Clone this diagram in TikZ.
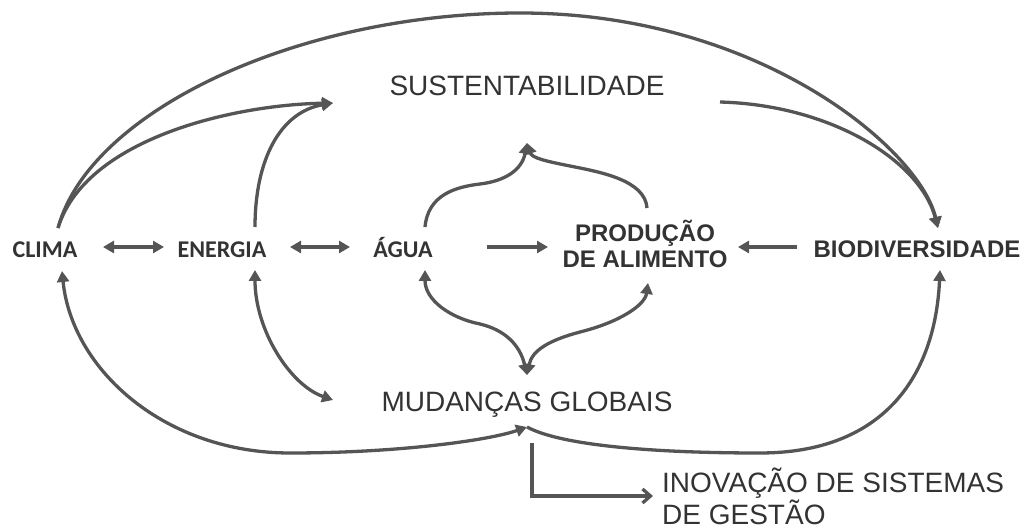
\documentclass[tikz,border=0pt]{standalone}
\usepackage{fontspec}
\setmainfont{Liberation Sans}
\newfontfamily\carlito{Carlito}
\usetikzlibrary{arrows.meta}
\definecolor{ink}{HTML}{333333}
\definecolor{wire}{HTML}{555555}
\tikzset{
  big/.style={font=\fontsize{28}{30}\selectfont, text=ink, inner sep=0pt},
  calib/.style={font=\carlito\bfseries\fontsize{24}{26}\selectfont, text=ink, inner sep=0pt},
  arialb/.style={font=\bfseries\fontsize{24}{26}\selectfont, text=ink, inner sep=0pt},
  link/.style={draw=wire, line width=3.3pt, -{Triangle[length=11pt,width=12pt]}},
  both/.style={link, {Triangle[length=11pt,width=12pt]}-{Triangle[length=11pt,width=12pt]}}
}
\begin{document}
\begin{tikzpicture}[x=1pt,y=-1pt]
\useasboundingbox (0,0) rectangle (1028,529);
\node[calib, anchor=base] (clima) at (45,258) {CLIMA};\node[calib, anchor=base] (energia) at (222,258) {ENERGIA};\node[calib, anchor=base] (agua) at (403,258) {ÁGUA};
\node[arialb, anchor=base, align=center] (prod) at (645,268) {PRODUÇÃO\\DE ALIMENTO};\node[arialb, anchor=base] (bio) at (917,258) {BIODIVERSIDADE};
\node[big, anchor=base] (sust) at (527,96) {SUSTENTABILIDADE};\node[big, anchor=base] (mud) at (527,411) {MUDANÇAS GLOBAIS};
\node[big, anchor=base west, align=left] (inov) at (662,524) {INOVAÇÃO DE SISTEMAS\\DE GESTÃO};
\draw[both] ([shift={(58,-11)}]clima.base) -- ([shift={(-58,-11)}]energia.base);\draw[both] ([shift={(68,-11)}]energia.base) -- ([shift={(-53,-11)}]agua.base);
\draw[link] ([shift={(84,-11)}]agua.base) -- ([shift={(-97,-21)}]prod.base);\draw[link] ([shift={(-120,-11)}]bio.base) -- ([shift={(93,-21)}]prod.base);
\draw[link] ([shift={(13,-30)}]clima.base) .. controls (90,110) and (300,13) .. (520,13) .. controls (760,13) and (920,150) .. ([shift={(21,-30)}]bio.base);
\draw[link] ([shift={(193,6)}]sust.base) .. controls (830,105) and (920,160) .. ([shift={(21,-30)}]bio.base);
\draw[link] ([shift={(13,-30)}]clima.base) .. controls (85,140) and (230,105) .. ([shift={(-194,7)}]sust.base);
\draw[link] ([shift={(33,-31)}]energia.base) .. controls (255,160) and (280,112) .. ([shift={(-194,7)}]sust.base);
\draw[link] ([shift={(22,-31)}]agua.base) .. controls (428,195) and (455,187) .. (480,184) .. controls (505,181) and (522,170) .. ([shift={(0,47)}]sust.base);
\draw[link] ([shift={(2,-60)}]prod.base) .. controls (645,180) and (600,172) .. (570,166) .. controls (545,161) and (532,158) .. ([shift={(0,47)}]sust.base);
\draw[both] ([shift={(22,12)}]agua.base) .. controls (425,300) and (450,318) .. (480,324) .. controls (505,330) and (520,345) .. ([shift={(0,-36)}]mud.base);
\draw[both] ([shift={(3,15)}]prod.base) .. controls (645,305) and (620,322) .. (580,332) .. controls (550,340) and (532,350) .. ([shift={(0,-36)}]mud.base);
\draw[both] ([shift={(33,12)}]energia.base) .. controls (255,330) and (290,385) .. ([shift={(-194,-11)}]mud.base);
\draw[both] ([shift={(17,13)}]clima.base) .. controls (72,370) and (165,453) .. (290,453) .. controls (400,453) and (490,440) .. ([shift={(0,16)}]mud.base);
\draw[link] ([shift={(0,16)}]mud.base) .. controls (560,445) and (650,453) .. (760,453) .. controls (880,453) and (935,380) .. ([shift={(23,12)}]bio.base);
\draw[draw=wire, line width=3.3pt, -{Straight Barb[length=8pt,width=14pt]}] ([shift={(5,32)}]mud.base) |- ([shift={(-9,-28)}]inov.base west);
\end{tikzpicture}
\end{document}
